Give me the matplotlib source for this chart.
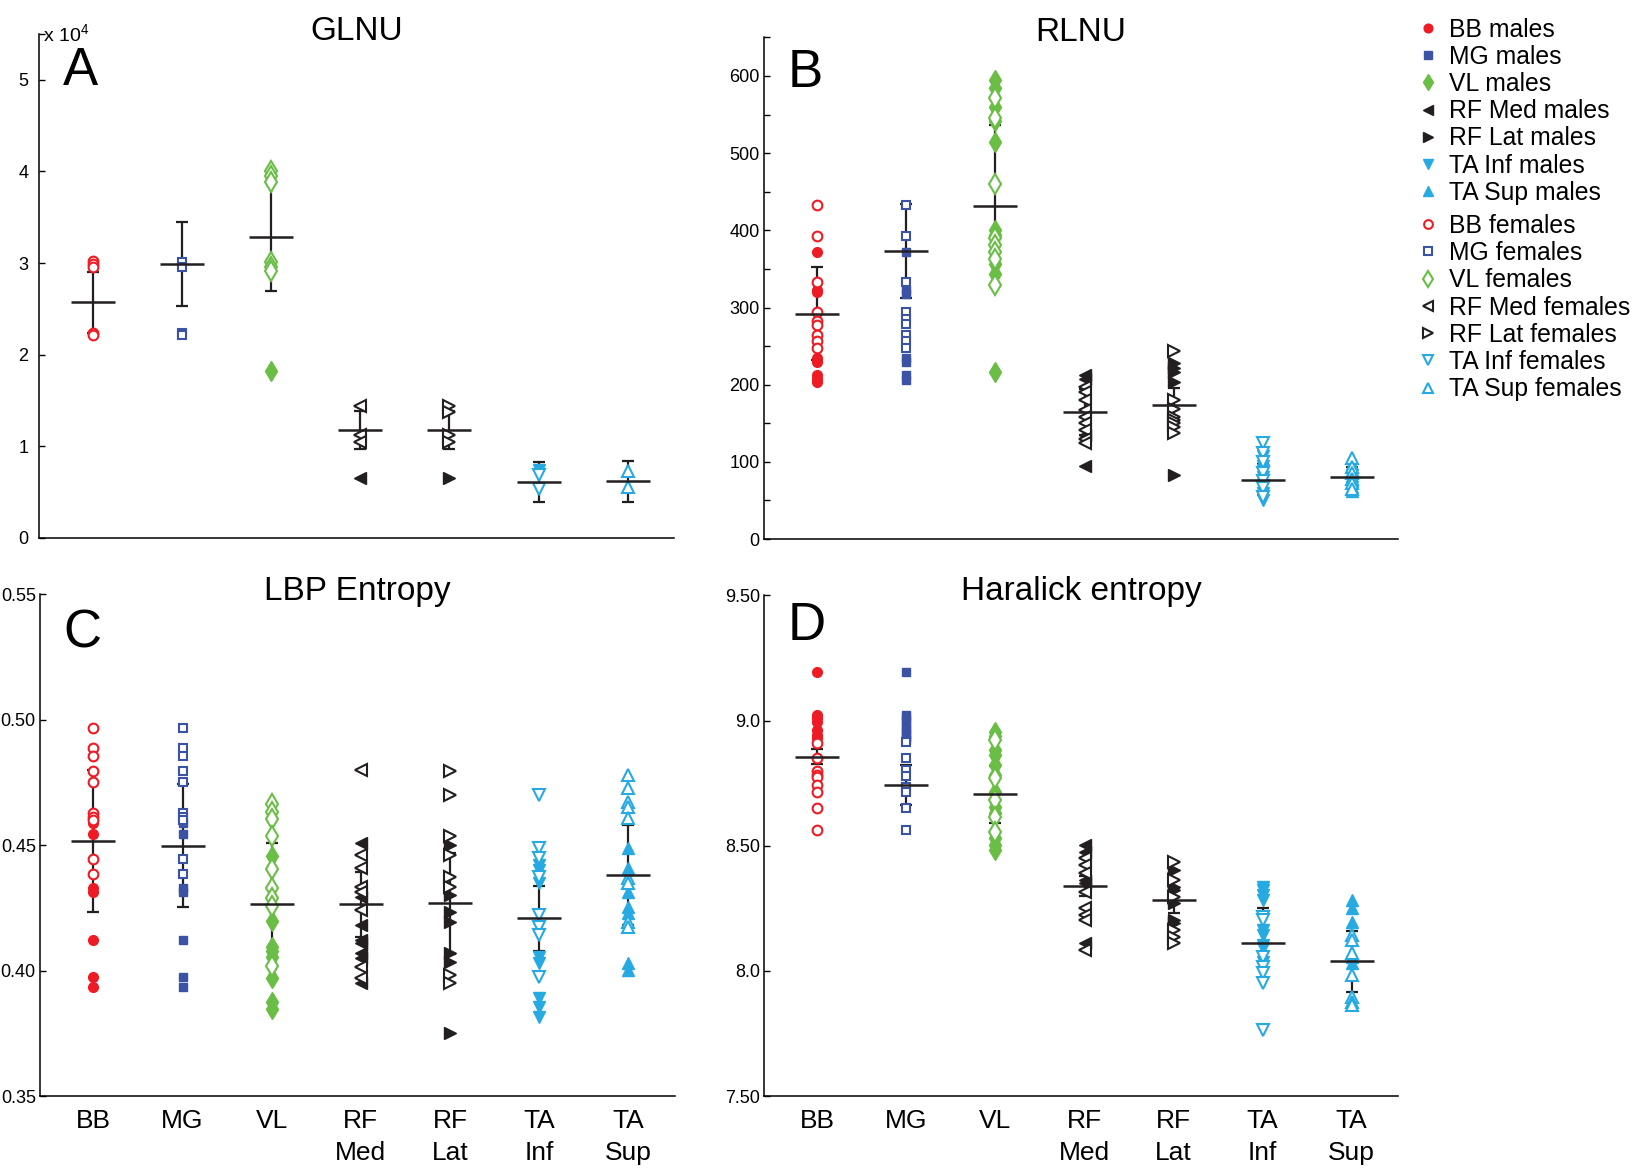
import matplotlib
matplotlib.use('Agg')
import matplotlib.pyplot as plt
from matplotlib.lines import Line2D
import numpy as np

plt.rcParams['font.family'] = ['Liberation Sans', 'DejaVu Sans']
plt.rcParams['mathtext.default'] = 'regular'

# muscle groups, in plot order
muscles = ['BB', 'MG', 'VL', 'RF\nMed', 'RF\nLat', 'TA\nInf', 'TA\nSup']
names = ['BB', 'MG', 'VL', 'RF Med', 'RF Lat', 'TA Inf', 'TA Sup']
colors = ['#ed1c24', '#3a53a4', '#6abd45', '#231f20', '#231f20', '#27aae1', '#27aae1']
markers = ['o', 's', 'd', '<', '>', 'v', '^']
sizes = [7, 5.5, 10, 9, 9, 9, 9]
legend_sizes = [6.3, 6.3, 8.5, 7.8, 7.8, 7.8, 7.8]

# A: GLNU (x 10^4)
glnu_males = [[], [], [1.82], [0.65], [0.65], [0.74], []]
glnu_females = [[3.02, 2.99, 2.96, 2.24, 2.22],
                [3.01, 2.96, 2.24, 2.22],
                [4.00, 3.95, 3.89, 3.01, 2.96, 2.91],
                [1.44, 1.12, 1.05],
                [1.44, 1.38, 1.12, 1.05],
                [0.69, 0.53],
                [0.73, 0.56]]
glnu_mean = [2.57, 2.99, 3.28, 1.18, 1.18, 0.61, 0.62]
glnu_sd = [0.33, 0.455, 0.59, 0.21, 0.21, 0.22, 0.225]

# B: RLNU
rlnu_males = [[372, 323, 320, 234, 230, 212, 208, 204],
              [372, 323, 318, 234, 230, 212, 206],
              [595, 584, 560, 542, 515, 400, 394, 357, 344, 217],
              [212, 207, 135, 94],
              [228, 221, 217, 204, 83],
              [108, 95, 90, 80, 70, 60, 50],
              [97, 90, 82, 75, 68, 62]]
rlnu_females = [[433, 393, 333, 294, 282, 277, 264, 256, 247],
                [433, 393, 333, 294, 285, 278, 264, 256, 248],
                [571, 545, 460, 390, 381, 372, 363, 329],
                [197, 191, 180, 167, 158, 150, 141, 130, 124],
                [243, 180, 169, 158, 154, 150, 145, 137],
                [124, 112, 100, 85, 75, 66, 55],
                [105, 93, 85, 78, 72, 65]]
rlnu_mean = [292, 373, 432, 165, 174, 77, 80]
rlnu_sd = [60, 61, 104, 30, 22, 20, 13]

# C: LBP entropy
lbp_males = [[0.4590, 0.4544, 0.4328, 0.4315, 0.4122, 0.3973, 0.3933],
             [0.4590, 0.4544, 0.4328, 0.4315, 0.4122, 0.3973, 0.3933],
             [0.4457, 0.4198, 0.4095, 0.4079, 0.4055, 0.3972, 0.3876, 0.3846],
             [0.4507, 0.4294, 0.4182, 0.4122, 0.4109, 0.4069, 0.4049, 0.3949],
             [0.4501, 0.4301, 0.4235, 0.4195, 0.4069, 0.4035, 0.3750],
             [0.4421, 0.4401, 0.4348, 0.4055, 0.4029, 0.3889, 0.3856, 0.3816],
             [0.4487, 0.4408, 0.4314, 0.4255, 0.4228, 0.4029, 0.4002]]
lbp_females = [[0.4966, 0.4886, 0.4855, 0.4796, 0.4753, 0.4627, 0.4614, 0.4600, 0.4444, 0.4385],
               [0.4966, 0.4886, 0.4855, 0.4796, 0.4753, 0.4627, 0.4614, 0.4600, 0.4444, 0.4385],
               [0.4664, 0.4633, 0.4604, 0.4538, 0.4405, 0.4328, 0.4291, 0.4257, 0.4019],
               [0.4800, 0.4461, 0.4408, 0.4334, 0.4314, 0.4241, 0.4015, 0.3969],
               [0.4797, 0.4700, 0.4536, 0.4461, 0.4374, 0.4334, 0.3982, 0.3949],
               [0.4700, 0.4487, 0.4448, 0.4374, 0.4222, 0.4175, 0.4142, 0.3976],
               [0.4780, 0.4727, 0.4673, 0.4653, 0.4607, 0.4368, 0.4348, 0.4195, 0.4175]]
lbp_mean = [0.4517, 0.4497, 0.4265, 0.4265, 0.4268, 0.4208, 0.4381]
lbp_sd = [0.0282, 0.0245, 0.0245, 0.013, 0.020, 0.013, 0.020]

# D: Haralick entropy
har_males = [[9.192, 9.022, 9.009, 8.995, 8.962, 8.942, 8.929],
             [9.192, 9.022, 9.009, 8.995, 8.975, 8.962, 8.948, 8.935, 8.922],
             [8.955, 8.938, 8.882, 8.862, 8.822, 8.782, 8.716, 8.656, 8.629, 8.529, 8.503, 8.483],
             [8.503, 8.476, 8.363, 8.350, 8.110],
             [8.403, 8.336, 8.323, 8.270, 8.203, 8.190],
             [8.336, 8.323, 8.303, 8.283, 8.163, 8.143, 8.103, 8.090, 8.036],
             [8.283, 8.250, 8.196, 8.056, 8.030]]
har_females = [[8.911, 8.849, 8.799, 8.782, 8.773, 8.742, 8.716, 8.649, 8.562],
               [8.915, 8.849, 8.802, 8.778, 8.735, 8.713, 8.649, 8.562],
               [8.922, 8.769, 8.682, 8.616, 8.556],
               [8.449, 8.423, 8.390, 8.316, 8.250, 8.223, 8.203, 8.083],
               [8.436, 8.363, 8.296, 8.163, 8.136, 8.110],
               [8.216, 8.203, 8.056, 8.016, 7.990, 7.950, 7.764],
               [8.143, 8.123, 8.070, 7.983, 7.897, 7.877, 7.863]]
har_mean = [8.855, 8.742, 8.705, 8.339, 8.283, 8.113, 8.039]
har_sd = [0.03, 0.08, 0.115, 0.04, 0.05, 0.14, 0.122]


def draw_panel(ax, males, females, means, sds):
    x = np.arange(1, 8)
    ax.errorbar(x, means, yerr=sds, fmt='none', ecolor='#231f20',
                elinewidth=1.6, capsize=4, capthick=1.6, zorder=1)
    for i in range(7):
        ax.plot([x[i]] * len(males[i]), males[i], ls='none', marker=markers[i],
                ms=sizes[i], color=colors[i], mec=colors[i], zorder=2)
        ax.plot([x[i]] * len(females[i]), females[i], ls='none', marker=markers[i],
                ms=sizes[i], color=colors[i], mfc='white', mew=1.5, zorder=3)
    # mean bars
    ax.plot(x, means, ls='none', marker='_', ms=32, mew=1.8, color='#231f20', zorder=4)
    ax.set_xlim(0.4, 7.52)
    for s in ['top', 'right']:
        ax.spines[s].set_visible(False)
    for s in ['left', 'bottom']:
        ax.spines[s].set_linewidth(1.1)
    ax.tick_params(axis='y', which='both', direction='in', length=4, width=1,
                   labelsize=13, pad=3)
    ax.tick_params(axis='x', length=0, labelsize=19, pad=9)


fig = plt.figure(figsize=(16.32, 11.69), dpi=100)
axA = fig.add_axes([0.0242, 0.5398, 0.3888, 0.4311])
axB = fig.add_axes([0.4681, 0.5389, 0.3885, 0.4291])
axC = fig.add_axes([0.0245, 0.0624, 0.3888, 0.4292])
axD = fig.add_axes([0.4681, 0.0624, 0.3885, 0.4283])

draw_panel(axA, glnu_males, glnu_females, glnu_mean, glnu_sd)
draw_panel(axB, rlnu_males, rlnu_females, rlnu_mean, rlnu_sd)
draw_panel(axC, lbp_males, lbp_females, lbp_mean, lbp_sd)
draw_panel(axD, har_males, har_females, har_mean, har_sd)

axA.set_ylim(0, 5.5)
axA.set_yticks([0, 1, 2, 3, 4, 5])
axA.set_yticks([5.5], minor=True)
axA.tick_params(axis='y', pad=8)
axA.text(0.006, 0.986, 'x 10$^4$', transform=axA.transAxes, fontsize=14, va='baseline')

axB.set_ylim(0, 650)
axB.set_yticks(np.arange(0, 601, 100))
axB.set_yticks(np.arange(50, 651, 100), minor=True)

axC.set_ylim(0.35, 0.55)
axC.set_yticks([0.35, 0.40, 0.45, 0.50, 0.55])
axC.set_yticklabels(['0.35', '0.40', '0.45', '0.50', '0.55'])

axD.set_ylim(7.5, 9.5)
axD.set_yticks([7.5, 8.0, 8.5, 9.0, 9.5])
axD.set_yticklabels(['7.50', '8.0', '8.50', '9.0', '9.50'])

for ax in [axA, axB]:
    ax.set_xticks([])
for ax in [axC, axD]:
    ax.set_xticks(np.arange(1, 8))
    ax.set_xticklabels(muscles, linespacing=1.42)

titles = ['GLNU', 'RLNU', 'LBP Entropy', 'Haralick entropy']
letters = ['A', 'B', 'C', 'D']
title_y = [0.989, 0.992, 0.988, 0.99]
letter_y = [0.899, 0.902, 0.894, 0.911]
for ax, t, l, ty, ly in zip([axA, axB, axC, axD], titles, letters, title_y, letter_y):
    ax.text(0.5, ty, t, transform=ax.transAxes, ha='center', va='baseline', fontsize=24)
    ax.text(0.037, ly, l, transform=ax.transAxes, ha='left', va='baseline', fontsize=38)

# legend: males (filled) then females (open)
male_handles = [Line2D([], [], ls='none', marker=markers[i], color=colors[i], ms=legend_sizes[i])
                for i in range(7)]
female_handles = [Line2D([], [], ls='none', marker=markers[i], color=colors[i], mfc='white',
                         mew=1.5, ms=legend_sizes[i]) for i in range(7)]
leg_kw = dict(frameon=False, fontsize=17.8, handlelength=0.95, handletextpad=0.38,
              borderpad=0, borderaxespad=0, labelspacing=0.13, loc='upper left')
fig.legend(male_handles, [n + ' males' for n in names], bbox_to_anchor=(0.868, 0.985), **leg_kw)
fig.legend(female_handles, [n + ' females' for n in names], bbox_to_anchor=(0.868, 0.817), **leg_kw)

fig.savefig('out.png', dpi=100)
